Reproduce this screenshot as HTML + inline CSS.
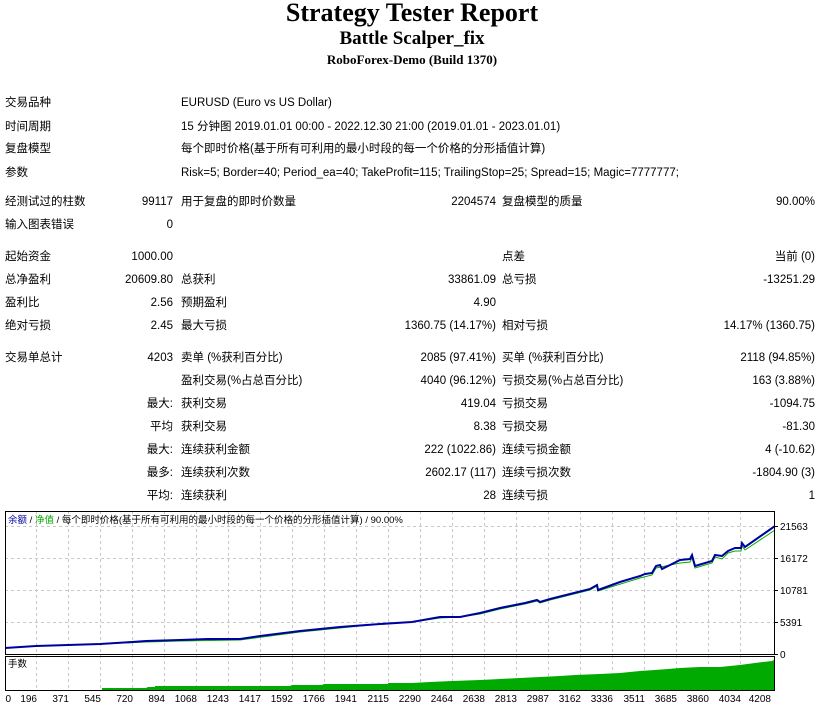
<!DOCTYPE html>
<html><head><meta charset="utf-8"><style>
body{margin:0;width:824px;height:712px;background:#fff;position:relative;overflow:hidden;font-family:"Liberation Sans","Noto Sans CJK SC",sans-serif;font-size:11.5px;color:#000}
.t{position:absolute;white-space:nowrap;line-height:16px;height:16px}
.r{text-align:right}
.hd{position:absolute;left:0;width:824px;text-align:center;font-family:"Liberation Serif",serif;font-weight:bold}
</style></head><body>
<div class="hd" style="top:-2px;font-size:26px">Strategy Tester Report</div>
<div class="hd" style="top:28px;font-size:19px">Battle Scalper_fix</div>
<div class="hd" style="top:52px;font-size:13px">RoboForex-Demo (Build 1370)</div>

<div class="t" style="left:5px;top:95px">交易品种</div><div class="t" style="left:181px;top:95px">EURUSD (Euro vs US Dollar)</div>
<div class="t" style="left:5px;top:119px">时间周期</div><div class="t" style="left:181px;top:119px">15 分钟图 2019.01.01 00:00 - 2022.12.30 21:00 (2019.01.01 - 2023.01.01)</div>
<div class="t" style="left:5px;top:141px">复盘模型</div><div class="t" style="left:181px;top:141px">每个即时价格(基于所有可利用的最小时段的每一个价格的分形插值计算)</div>
<div class="t" style="left:5px;top:165px">参数</div><div class="t" style="left:181px;top:165px">Risk=5; Border=40; Period_ea=40; TakeProfit=115; TrailingStop=25; Spread=15; Magic=7777777;</div>

<div class="t" style="left:5px;top:194px">经测试过的柱数</div><div class="t r" style="right:651px;top:194px">99117</div><div class="t" style="left:181px;top:194px">用于复盘的即时价数量</div><div class="t r" style="right:328px;top:194px">2204574</div><div class="t" style="left:502px;top:194px">复盘模型的质量</div><div class="t r" style="right:9px;top:194px">90.00%</div>
<div class="t" style="left:5px;top:217px">输入图表错误</div><div class="t r" style="right:651px;top:217px">0</div>

<div class="t" style="left:5px;top:249px">起始资金</div><div class="t r" style="right:651px;top:249px">1000.00</div><div class="t" style="left:502px;top:249px">点差</div><div class="t r" style="right:9px;top:249px">当前 (0)</div>
<div class="t" style="left:5px;top:272px">总净盈利</div><div class="t r" style="right:651px;top:272px">20609.80</div><div class="t" style="left:181px;top:272px">总获利</div><div class="t r" style="right:328px;top:272px">33861.09</div><div class="t" style="left:502px;top:272px">总亏损</div><div class="t r" style="right:9px;top:272px">-13251.29</div>
<div class="t" style="left:5px;top:295px">盈利比</div><div class="t r" style="right:651px;top:295px">2.56</div><div class="t" style="left:181px;top:295px">预期盈利</div><div class="t r" style="right:328px;top:295px">4.90</div>
<div class="t" style="left:5px;top:318px">绝对亏损</div><div class="t r" style="right:651px;top:318px">2.45</div><div class="t" style="left:181px;top:318px">最大亏损</div><div class="t r" style="right:328px;top:318px">1360.75 (14.17%)</div><div class="t" style="left:502px;top:318px">相对亏损</div><div class="t r" style="right:9px;top:318px">14.17% (1360.75)</div>

<div class="t" style="left:5px;top:350px">交易单总计</div><div class="t r" style="right:651px;top:350px">4203</div><div class="t" style="left:181px;top:350px">卖单 (%获利百分比)</div><div class="t r" style="right:328px;top:350px">2085 (97.41%)</div><div class="t" style="left:502px;top:350px">买单 (%获利百分比)</div><div class="t r" style="right:9px;top:350px">2118 (94.85%)</div>
<div class="t" style="left:181px;top:373px">盈利交易(%占总百分比)</div><div class="t r" style="right:328px;top:373px">4040 (96.12%)</div><div class="t" style="left:502px;top:373px">亏损交易(%占总百分比)</div><div class="t r" style="right:9px;top:373px">163 (3.88%)</div>
<div class="t r" style="right:651px;top:396px">最大:</div><div class="t" style="left:181px;top:396px">获利交易</div><div class="t r" style="right:328px;top:396px">419.04</div><div class="t" style="left:502px;top:396px">亏损交易</div><div class="t r" style="right:9px;top:396px">-1094.75</div>
<div class="t r" style="right:651px;top:419px">平均</div><div class="t" style="left:181px;top:419px">获利交易</div><div class="t r" style="right:328px;top:419px">8.38</div><div class="t" style="left:502px;top:419px">亏损交易</div><div class="t r" style="right:9px;top:419px">-81.30</div>
<div class="t r" style="right:651px;top:442px">最大:</div><div class="t" style="left:181px;top:442px">连续获利金额</div><div class="t r" style="right:328px;top:442px">222 (1022.86)</div><div class="t" style="left:502px;top:442px">连续亏损金额</div><div class="t r" style="right:9px;top:442px">4 (-10.62)</div>
<div class="t r" style="right:651px;top:465px">最多:</div><div class="t" style="left:181px;top:465px">连续获利次数</div><div class="t r" style="right:328px;top:465px">2602.17 (117)</div><div class="t" style="left:502px;top:465px">连续亏损次数</div><div class="t r" style="right:9px;top:465px">-1804.90 (3)</div>
<div class="t r" style="right:651px;top:488px">平均:</div><div class="t" style="left:181px;top:488px">连续获利</div><div class="t r" style="right:328px;top:488px">28</div><div class="t" style="left:502px;top:488px">连续亏损</div><div class="t r" style="right:9px;top:488px">1</div>

<svg style="position:absolute;left:0;top:0" width="824" height="712" font-family="Liberation Sans, Noto Sans CJK SC, sans-serif" font-size="10">
<g stroke="#c8c8c8" stroke-dasharray="3,3" stroke-width="1">
<path d="M5 526.5H774M5 558.5H774M5 590.5H774M5 622.5H774"/>
<path d="M36.5 511V690M68.5 511V690M100.5 511V690M132.5 511V690M164.5 511V690M196.5 511V690M228.5 511V690M260.5 511V690M292.5 511V690M324.5 511V690M356.5 511V690M388.5 511V690M420.5 511V690M452.5 511V690M484.5 511V690M516.5 511V690M548.5 511V690M580.5 511V690M612.5 511V690M644.5 511V690M676.5 511V690M708.5 511V690M740.5 511V690"/>
</g>
<polygon fill="#00aa00" points="102,690 102,688 146,688 148,687 155,687 155,686 290,686 292,685 322,685 324,684 356,684 388,684 388,683 412,683 430,682 452,681 480,680 500,679 520,678 540,677 560,676 575,675 600,674 620,673 640,671 655,670 668,669 680,668 700,667 720,667 740,665 755,663 772,661 774,660 774,690"/>
<polyline fill="none" stroke="#00aa00" stroke-width="1" points="5,648 36,646 100,644 146,642 180,641 240,640 300,632 340,628 380,624 412,622 440,618 460,617 480,614 500,609 525,604 537,601 540,603 550,600 570,595 590,590 597,586 598,591 640,578 652,575 656,568 680,563 690,562 692,558 695,568 712,563 715,557 722,559 728,553 735,551 741,551 742,546 745,550 775,530"/>
<polyline fill="none" stroke="#0000a0" stroke-width="2" points="5,648 36,646 68,645 100,644 132,642 146,641 180,640 208,639 240,639 260,636 300,631 340,627 380,624 412,622 440,617 460,617 480,613 500,608 525,603 537,600 540,602 550,599 570,594 590,589 597,585 598,590 620,582 640,576 645,574 652,573 656,566 660,565 662,569 680,560 690,559 692,555 695,566 712,561 715,555 722,556 728,551 735,548 741,548 742,543 745,547 775,526"/>
<rect x="5.5" y="511.5" width="769" height="143" fill="none" stroke="#000"/>
<rect x="5.5" y="656.5" width="769" height="34" fill="none" stroke="#000"/>
<path d="M774 526.5h4M774 558.5h4M774 590.5h4M774 622.5h4M774 654.5h4" stroke="#000"/>
<text x="8" y="523" font-size="9.5"><tspan fill="#0000a0">余额</tspan> / <tspan fill="#00aa00">净值</tspan> / 每个即时价格(基于所有可利用的最小时段的每一个价格的分形插值计算) / 90.00%</text>
<text x="8" y="667" font-size="9.5">手数</text>
<g font-size="10">
<text x="780" y="530">21563</text><text x="780" y="562">16172</text><text x="780" y="594">10781</text><text x="780" y="626">5391</text><text x="780" y="658">0</text>
</g>
<g font-size="10" text-anchor="end">
<text x="11" y="702">0</text><text x="37" y="702">196</text><text x="69" y="702">371</text><text x="101" y="702">545</text><text x="133" y="702">720</text><text x="165" y="702">894</text><text x="197" y="702">1068</text><text x="229" y="702">1243</text><text x="261" y="702">1417</text><text x="293" y="702">1592</text><text x="325" y="702">1766</text><text x="357" y="702">1941</text><text x="389" y="702">2115</text><text x="421" y="702">2290</text><text x="453" y="702">2464</text><text x="485" y="702">2638</text><text x="517" y="702">2813</text><text x="549" y="702">2987</text><text x="581" y="702">3162</text><text x="613" y="702">3336</text><text x="645" y="702">3511</text><text x="677" y="702">3685</text><text x="709" y="702">3860</text><text x="741" y="702">4034</text><text x="771" y="702">4208</text>
</g>
</svg>
</body></html>
